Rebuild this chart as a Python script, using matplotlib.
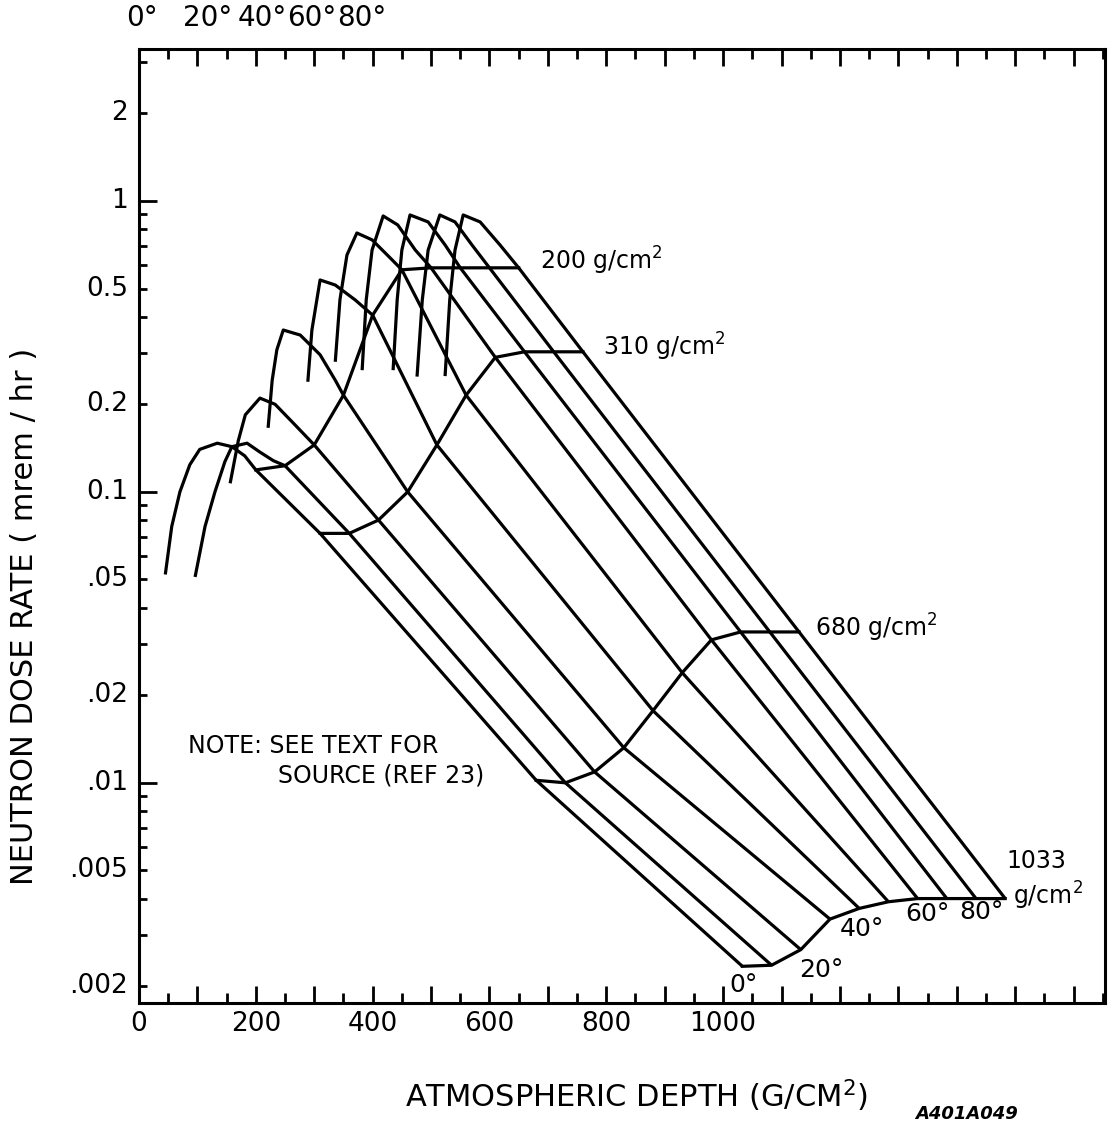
import numpy as np
import matplotlib
matplotlib.use('Agg')
from matplotlib import pyplot as plt
from matplotlib.ticker import FixedLocator, NullFormatter

# latitude curves, each shifted 50 g/cm2 to the right per 10 deg
lats = [0, 10, 20, 30, 40, 50, 60, 70, 80, 90]
shift_per_10 = 50

# depth (g/cm2) and dose (mrem/hr)
d00 = [45, 56, 70, 87, 104, 134, 159, 181, 200, 310, 680, 1033]
v00 = [0.052, 0.076, 0.10, 0.124, 0.14, 0.147, 0.143, 0.133, 0.119, 0.072, 0.0102, 0.00234]
d10 = [46, 63, 80, 97, 109, 135, 157, 180, 200, 310, 680, 1033]
v10 = [0.051, 0.076, 0.10, 0.127, 0.143, 0.147, 0.137, 0.128, 0.123, 0.072, 0.0100, 0.00236]
d20 = [56, 70, 82, 107, 133, 167, 200, 310, 680, 1033]
v20 = [0.107, 0.15, 0.184, 0.21, 0.20, 0.17, 0.145, 0.080, 0.0109, 0.00267]
d30 = [71, 78, 86, 97, 126, 160, 186, 200, 310, 680, 1033]
v30 = [0.166, 0.242, 0.308, 0.36, 0.346, 0.296, 0.242, 0.215, 0.10, 0.0132, 0.0034]
d40 = [89, 96, 110, 136, 170, 200, 310, 680, 1033]
v40 = [0.239, 0.36, 0.535, 0.514, 0.457, 0.405, 0.145, 0.0177, 0.0037]
d50 = [86, 94, 106, 123, 149, 180, 200, 310, 680, 1033]
v50 = [0.28, 0.457, 0.652, 0.776, 0.735, 0.637, 0.58, 0.215, 0.0239, 0.0039]
d60 = [82, 89, 99, 118, 143, 173, 200, 310, 680, 1033]
v60 = [0.262, 0.457, 0.678, 0.888, 0.827, 0.678, 0.589, 0.29, 0.031, 0.004]
d70 = [85, 92, 100, 114, 145, 174, 200, 310, 680, 1033]
v70 = [0.262, 0.457, 0.678, 0.895, 0.847, 0.706, 0.589, 0.303, 0.033, 0.004]
d80 = [76, 85, 95, 115, 141, 170, 200, 310, 680, 1033]
v80 = [0.249, 0.457, 0.678, 0.895, 0.847, 0.706, 0.589, 0.303, 0.033, 0.004]
d90 = [74, 82, 91, 105, 134, 168, 200, 310, 680, 1033]
v90 = [0.25, 0.457, 0.678, 0.895, 0.847, 0.706, 0.589, 0.303, 0.033, 0.004]

depths = [d00, d10, d20, d30, d40, d50, d60, d70, d80, d90]
doses = [v00, v10, v20, v30, v40, v50, v60, v70, v80, v90]

# constant depth cross lines
cross_depths = [200, 310, 680, 1033]

yticks = [2, 1, 0.5, 0.2, 0.1, 0.05, 0.02, 0.01, 0.005, 0.002]
ylabels = ['2', '1', '0.5', '0.2', '0.1', '.05', '.02', '.01', '.005', '.002']
xticks = [0, 200, 400, 600, 800, 1000]
top_lat_labels = ['0°', '20°', '40°', '60°', '80°']
top_lat_x = [5, 117, 211, 296, 382]

plt.rcParams['font.family'] = 'DejaVu Sans'
fig = plt.figure(figsize=(11.13, 11.28), dpi=100)
ax = fig.add_axes([0.1249, 0.1108, 0.868, 0.8458])
ax.set_yscale('log')
ax.set_xlim(0, 1654)
ax.set_ylim(0.00175, 3.33)

lw = 2.3
for i, lat in enumerate(lats):
    x = np.array(depths[i]) + shift_per_10 * lat / 10
    ax.plot(x, doses[i], color='black', lw=lw, solid_capstyle='butt',
            solid_joinstyle='round')

# cross lines through the points of equal depth
for D in cross_depths:
    xs, ys = [], []
    for i, lat in enumerate(lats):
        k = depths[i].index(D)
        xs.append(D + shift_per_10 * lat / 10)
        ys.append(doses[i][k])
    ax.plot(xs, ys, color='black', lw=lw, solid_joinstyle='round')

# labels at the ends of the cross lines
ax.text(687, 0.62, '200 g/cm$^2$', fontsize=17, va='center')
ax.text(795, 0.315, '310 g/cm$^2$', fontsize=17, va='center')
ax.text(1158, 0.034, '680 g/cm$^2$', fontsize=17, va='center')
ax.text(1485, 0.0054, '1033', fontsize=17, va='center')
ax.text(1497, 0.0041, 'g/cm$^2$', fontsize=17, va='center')

# latitude labels on the sea level line
ax.text(1010, 0.00202, '0°', fontsize=18, va='center')
ax.text(1130, 0.00228, '20°', fontsize=18, va='center')
ax.text(1200, 0.00314, '40°', fontsize=18, va='center')
ax.text(1312, 0.00354, '60°', fontsize=18, va='center')
ax.text(1405, 0.0036, '80°', fontsize=18, va='center')

ax.text(84, 0.0134, 'NOTE: SEE TEXT FOR', fontsize=17, va='center')
ax.text(238, 0.0106, 'SOURCE (REF 23)', fontsize=17, va='center')

# ticks
ax.xaxis.set_major_locator(FixedLocator(np.arange(0, 1601, 100)))
ax.xaxis.set_minor_locator(FixedLocator(np.arange(50, 1651, 100)))
ax.set_xticklabels([str(t) if t in xticks else '' for t in np.arange(0, 1601, 100)])
ax.tick_params(axis='x', which='major', direction='in', length=12, width=2,
               top=True, labelsize=19, pad=6)
ax.tick_params(axis='x', which='minor', direction='in', length=7, width=2, top=True)

ax.yaxis.set_major_locator(FixedLocator([0.001, 0.01, 0.1, 1]))
minor_y = [m * 10.0 ** e for e in range(-3, 1) for m in range(2, 10)]
ax.yaxis.set_minor_locator(FixedLocator(minor_y))
ax.yaxis.set_major_formatter(NullFormatter())
ax.yaxis.set_minor_formatter(NullFormatter())
ax.tick_params(axis='y', which='major', direction='in', length=13, width=2, right=False)
ax.tick_params(axis='y', which='minor', direction='in', length=6, width=2, right=False)
for t, s in zip(yticks, ylabels):
    ax.annotate(s, xy=(0, t), xycoords=ax.get_yaxis_transform(), xytext=(-8, 0),
                textcoords='offset points', fontsize=19, ha='right', va='center')

for sp in ax.spines.values():
    sp.set_linewidth(2.2)

ax.set_xlabel('ATMOSPHERIC DEPTH (G/CM$^2$)', fontsize=22)
ax.xaxis.set_label_coords(0.515, -0.078)
ax.set_ylabel('NEUTRON DOSE RATE ( mrem / hr )', fontsize=22)
ax.yaxis.set_label_coords(-0.1035, 0.405)

for xv, s in zip(top_lat_x, top_lat_labels):
    ax.annotate(s, xy=(xv, 1), xycoords=ax.get_xaxis_transform(), xytext=(0, 22),
                textcoords='offset points', fontsize=20, ha='center', va='center')

fig.text(0.822, 0.008, 'A401A049', fontsize=13, fontweight='bold', style='italic')

fig.savefig('out.png', dpi=100)
